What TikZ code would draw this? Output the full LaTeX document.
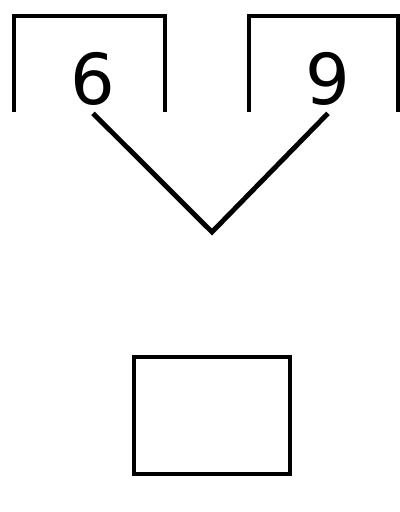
\documentclass[tikz,border=0pt]{standalone}
\usepackage{fontspec}
\setmainfont{DejaVu Sans}
\usetikzlibrary{positioning,calc}

\begin{document}
\begin{tikzpicture}[x=0.02cm, y=-0.02cm, line width=2.8pt,
    every node/.style={font=\fontsize{40}{44}\selectfont},
    digit/.style={inner sep=3pt}]
  \useasboundingbox (0,0) rectangle (400,512);

  % open boxes at the top
  \draw (14,112) -- (14,16) -- (165,16) -- (165,112);
  \draw (249,112) -- (249,16) -- (398,16) -- (398,112);

  \node[digit] (six) at (93,79) {6};
  \node[digit] (nine) at (328,79) {9};
  \coordinate (apex) at (212,232);

  \draw (six.south) -- (apex) -- (nine.south);

  % empty answer box
  \node[draw, minimum width=156*0.02cm, minimum height=117*0.02cm, inner sep=0] (answer) at (212,415.5) {};
\end{tikzpicture}
\end{document}
